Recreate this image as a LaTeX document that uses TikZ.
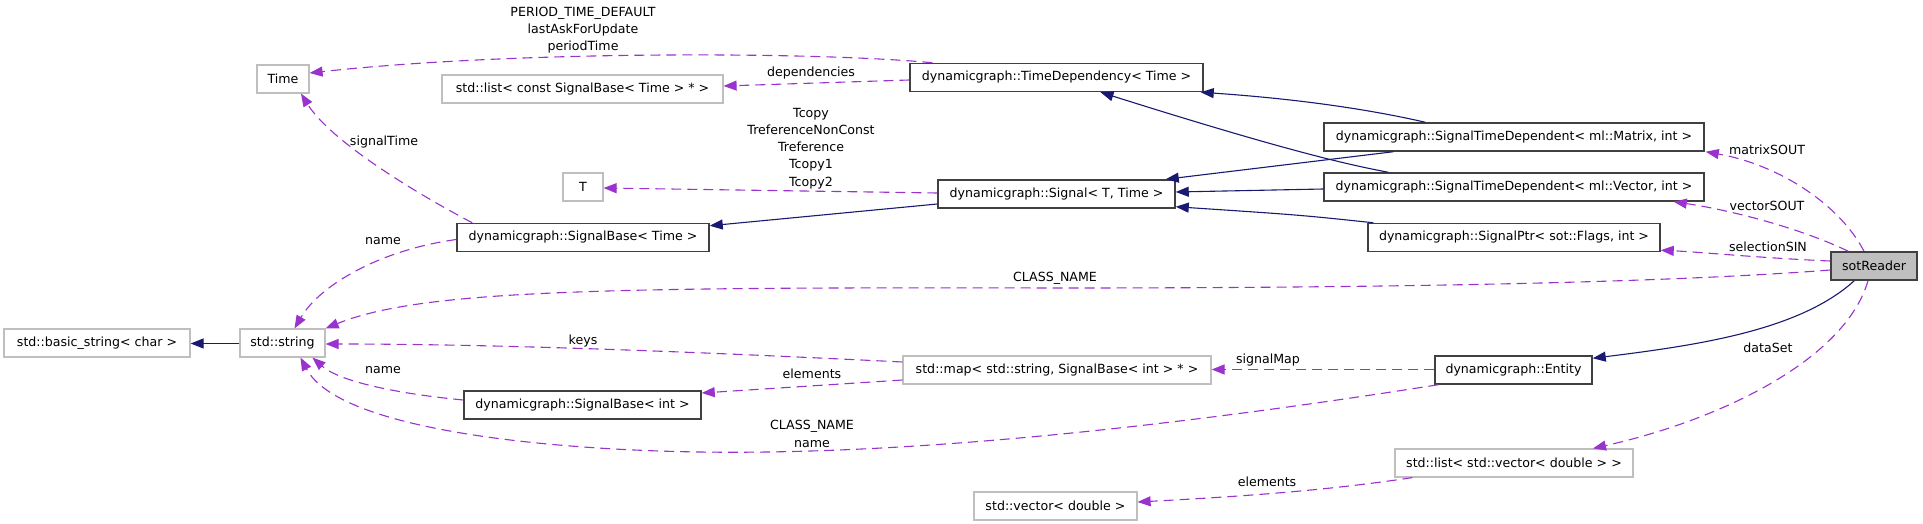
\documentclass[tikz,border=0pt]{standalone}
\usepackage{fontspec}
\setmainfont{DejaVu Sans}
\usetikzlibrary{arrows.meta,calc}
\definecolor{usecol}{HTML}{9A32CD}
\definecolor{inhcol}{HTML}{191970}
\definecolor{gbord}{HTML}{BFBFBF}
\definecolor{dbord}{HTML}{404040}
\definecolor{sotfill}{HTML}{BFBFBF}
\begin{document}
\begin{tikzpicture}[x=1pt,y=-1pt,
  every node/.style={font=\fontsize{12.6}{17.2}\selectfont, inner sep=0pt},
  gbox/.style={draw=gbord, line width=1.2pt, fill=white, rectangle, minimum height=28pt},
  dbox/.style={draw=dbord, line width=1.5pt, fill=white, rectangle, minimum height=28pt},
  lbl/.style={align=center},
  use/.style={draw=usecol, line width=1.1pt, dash pattern=on 10pt off 6pt, -{Triangle[length=13pt,width=10pt]}},
  inh/.style={draw=inhcol, line width=1.1pt, -{Triangle[length=13pt,width=10pt]}}]
\useasboundingbox[fill=white] (0,0) rectangle (1923,524);

% nodes
\node[gbox, minimum width=52pt] (time) at (283,79) {Time};
\node[gbox, minimum width=281pt] (listc) at (582.5,89) {std::list< const SignalBase< Time > * >};
\node[gbox, minimum width=40pt] (T) at (583,187) {T};
\node[dbox, minimum width=252pt] (sbtime) at (583,237.5) {dynamicgraph::SignalBase< Time >};
\node[dbox, minimum width=293pt] (timedep) at (1056.5,77.5) {dynamicgraph::TimeDependency< Time >};
\node[dbox, minimum width=237pt] (signal) at (1056.5,194) {dynamicgraph::Signal< T, Time >};
\node[dbox, minimum width=380pt] (matrix) at (1514,137) {dynamicgraph::SignalTimeDependent< ml::Matrix, int >};
\node[dbox, minimum width=380pt] (vector) at (1514,187) {dynamicgraph::SignalTimeDependent< ml::Vector, int >};
\node[dbox, minimum width=292pt] (sigptr) at (1514,237.5) {dynamicgraph::SignalPtr< sot::Flags, int >};
\node[dbox, fill=sotfill, minimum width=86pt] (sot) at (1874,266) {sotReader};
\node[gbox, minimum width=186pt] (basicstr) at (97,343) {std::basic\_string< char >};
\node[gbox, minimum width=85pt] (string) at (282.5,343) {std::string};
\node[dbox, minimum width=237pt] (sbint) at (582.5,405) {dynamicgraph::SignalBase< int >};
\node[gbox, minimum width=308pt] (map) at (1057,370) {std::map< std::string, SignalBase< int > * >};
\node[dbox, minimum width=157pt] (entity) at (1513.5,370) {dynamicgraph::Entity};
\node[gbox, minimum width=238pt] (listvec) at (1514,463) {std::list< std::vector< double > >};
\node[gbox, minimum width=163pt] (vecdbl) at (1055.5,506) {std::vector< double >};

% usage edges
\draw[use] ($(timedep.north west)+(23,0)$) .. controls (820,52) and (520,50) .. ($(time.east)+(0,-6)$);
\draw[use] ($(timedep.west)+(0,2.5)$) -- ($(listc.east)+(0,-3)$);
\draw[use] ($(signal.west)+(0,-1)$) -- ($(T.east)+(0,1)$);
\draw[use] ($(sbtime.north west)+(16,0)$) .. controls (410,190) and (330,140) .. ($(time.south)+(18,0)$);
\draw[use] ($(sbtime.west)+(0,2)$) .. controls (380,250) and (320,285) .. ($(string.north)+(12,0)$);
\draw[use] ($(sot.west)+(0,4)$) .. controls (1650,284) and (1350,288) .. (1055,288)
   .. controls (600,287) and (420,290) .. (string.north east);
\draw[use] ($(map.west)+(0,-8)$) .. controls (700,352) and (500,344) .. ($(string.east)+(0,1)$);
\draw[use] ($(map.west)+(0,10)$) -- ($(sbint.east)+(0,-12)$);
\draw[use] ($(sbint.west)+(0,-5)$) .. controls (400,394) and (340,382) .. ($(string.south)+(30,0)$);
\draw[use] ($(entity.south west)+(4,0)$) .. controls (1150,430) and (900,455) .. (700,452)
   .. controls (560,450) and (340,432) .. ($(string.south)+(18,0)$);
\draw[use] ($(entity.west)+(0,-0.5)$) -- ($(map.east)+(0,-0.5)$);
\draw[use] ($(sot.north)+(-10,0)$) .. controls (1840,205) and (1780,165) .. ($(matrix.south east)+(1,0)$);
\draw[use] ($(sot.north west)+(18,0)$) .. controls (1800,228) and (1730,210) .. ($(vector.south east)+(-31,0)$);
\draw[use] ($(sot.west)+(0,-5)$) .. controls (1760,258) and (1700,252) .. ($(sigptr.south east)+(0,-2)$);
\draw[use] ($(sot.south)+(-6,0)$) .. controls (1845,360) and (1720,420) .. ($(listvec.north)+(79,0)$);
\draw[use] ($(listvec.south west)+(18,0)$) .. controls (1330,490) and (1250,496) .. ($(vecdbl.east)+(0,-4)$);

% inheritance edges
\draw[inh] ($(matrix.north west)+(102,0)$) .. controls (1350,105) and (1270,97) .. ($(timedep.south east)+(-3,0)$);
\draw[inh] ($(matrix.south west)+(70,0)$) -- ($(signal.north east)+(-10,0)$);
\draw[inh] ($(vector.north west)+(65,0)$) .. controls (1350,165) and (1290,152) .. ($(timedep.south)+(44,0)$);
\draw[inh] ($(vector.west)+(0,2)$) -- ($(signal.east)+(0,-2)$);
\draw[inh] ($(sigptr.north west)+(6,0)$) .. controls (1300,215) .. ($(signal.south east)+(0,-2)$);
\draw[inh] ($(signal.west)+(0,10)$) -- ($(sbtime.north east)+(0,3)$);
\draw[inh] ($(string.west)+(0,0.5)$) -- ($(basicstr.east)+(0,0.5)$);
\draw[inh] ($(sot.south west)+(24,0)$) .. controls (1800,330) and (1700,345) .. ($(entity.north east)+(0,3)$);

% edge labels
\node[lbl] (lperiod) at (583,30) {PERIOD\_TIME\_DEFAULT\\lastAskForUpdate\\periodTime};
\node[lbl] (ldep) at (811,73) {dependencies};
\node[lbl] (ltcopy) at (811,148.5) {Tcopy\\TreferenceNonConst\\Treference\\Tcopy1\\Tcopy2};
\node[lbl] (lsigtime) at (384,142) {signalTime};
\node[lbl] (lname1) at (383,241) {name};
\node[lbl] (lname2) at (383,370) {name};
\node[lbl] (lkeys) at (583,341) {keys};
\node[lbl] (lclass) at (1055,278) {CLASS\_NAME};
\node[lbl] (lelem1) at (812,374) {elements};
\node[lbl] (lclassname) at (812,434) {CLASS\_NAME\\name};
\node[lbl] (lsigmap) at (1268,360) {signalMap};
\node[lbl] (lelem2) at (1267,482) {elements};
\node[lbl] (ldataset) at (1768,348) {dataSet};
\node[lbl] (lmatrix) at (1767,150) {matrixSOUT};
\node[lbl] (lvector) at (1767,206) {vectorSOUT};
\node[lbl] (lsel) at (1768,247) {selectionSIN};
\end{tikzpicture}
\end{document}
